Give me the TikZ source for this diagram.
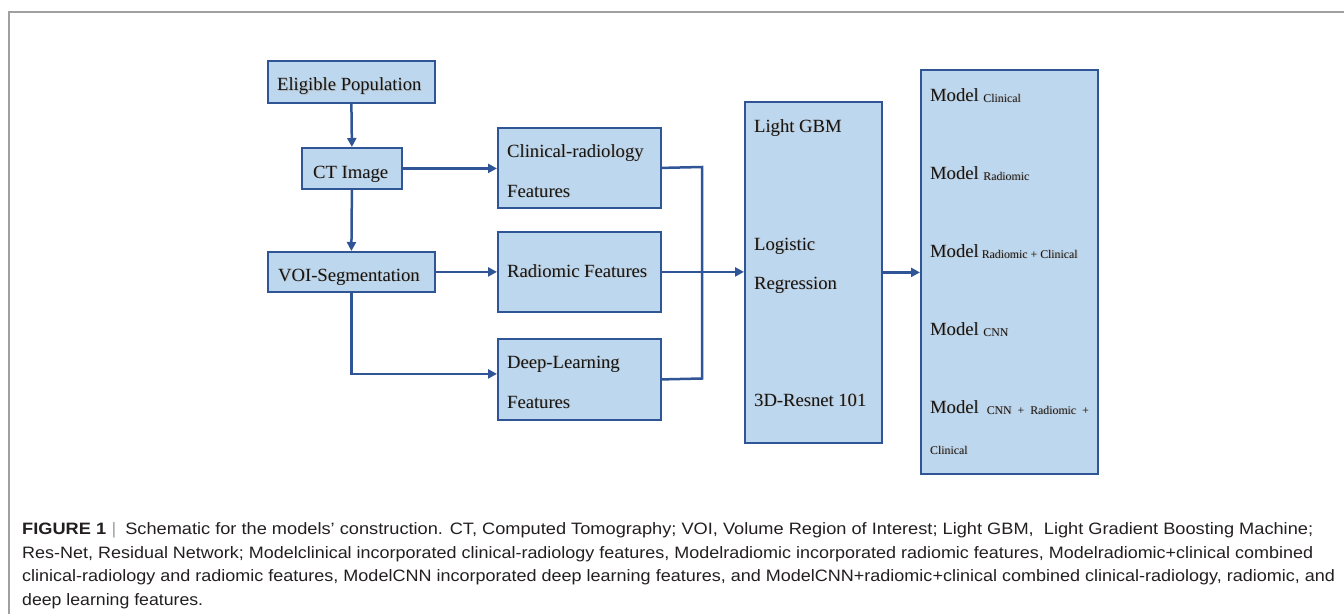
\documentclass[tikz,border=0pt]{standalone}
\usepackage{fontspec}
\usepackage{graphicx}
\setmainfont{Liberation Serif}
\newfontfamily\capfont{Liberation Sans}
\usetikzlibrary{arrows.meta}
\definecolor{boxfill}{HTML}{BDD7EE}
\definecolor{boxline}{HTML}{2F5597}
\definecolor{framegray}{HTML}{A0A0A0}
\definecolor{captext}{HTML}{231F20}
\newcommand{\subt}[1]{\raisebox{-1pt}{\fontsize{11.8}{12}\selectfont #1}}
\newcommand{\shd}[1]{\makebox[0pt][l]{\hspace{0.9pt}\raisebox{-0.9pt}{\color{black!30}#1}}#1}
\begin{document}
\begin{tikzpicture}[x=1pt,y=-1pt,
  box/.style={draw=boxline, fill=boxfill, line width=1.8pt, inner sep=0pt, anchor=north west},
  txt/.style={anchor=base west, inner sep=0pt, text=black!92, font=\fontsize{18.6}{22}\selectfont},
  conn/.style={draw=boxline, line width=2.5pt, line join=miter},
  arr/.style={conn, -{Triangle[length=9pt,width=9pt]}},
  captxt/.style={anchor=base west, inner sep=0pt, text=captext, font=\capfont\fontsize{16.5}{20}\selectfont}
]
\useasboundingbox (0,0) rectangle (1344,614);
% frame
\draw[framegray, line width=1.3pt] (1344,12) -- (9,12) -- (9,614);

% boxes
\node[box, minimum width=167pt, minimum height=42pt] (ep) at (267,60) {};
\node[box, minimum width=100pt, minimum height=41pt] (ct) at (301,147) {};
\node[box, minimum width=167pt, minimum height=40pt] (voi) at (267,251) {};
\node[box, minimum width=163pt, minimum height=80pt] (clin) at (497,127) {};
\node[box, minimum width=163pt, minimum height=80pt] (rad) at (497,231) {};
\node[box, minimum width=163pt, minimum height=81pt] (deep) at (497,338) {};
\node[box, minimum width=137pt, minimum height=341pt] (alg) at (744,101) {};
\node[box, minimum width=177pt, minimum height=404pt] (mdl) at (920,69) {};

% texts
\node[txt] (tep) at (277,90.7) {\shd{Eligible Population}};
\node[txt] (tct) at (313,178) {\shd{CT Image}};
\node[txt] (tvoi) at (278,281) {\shd{VOI-Segmentation}};
\node[txt] (tclin1) at (507,157) {\shd{Clinical-radiology}};
\node[txt] (tclin2) at (507,197) {\shd{Features}};
\node[txt] (trad) at (507,277) {\shd{Radiomic Features}};
\node[txt] (tdeep1) at (507,368) {\shd{Deep-Learning}};
\node[txt] (tdeep2) at (507,408) {\shd{Features}};
\node[txt] (tlgbm) at (754,132) {\shd{Light GBM}};
\node[txt] (tlr1) at (754,250) {\shd{Logistic}};
\node[txt] (tlr2) at (754,289) {\shd{Regression}};
\node[txt] (tres) at (754,406) {\shd{3D-Resnet 101}};
\node[txt] (m1) at (930,101) {\shd{Model \subt{Clinical}}};
\node[txt] (m2) at (930,179) {\shd{Model \subt{Radiomic}}};
\node[txt] (m3) at (930,257) {\shd{Model\hspace{3pt}\subt{Radiomic\hspace{3pt}+\hspace{3pt}Clinical}}};
\node[txt] (m4) at (930,335) {\shd{Model \subt{CNN}}};
\node[txt] (m5) at (930,413) {\shd{Model\hspace{8pt}\subt{CNN\hspace{6pt}+\hspace{6pt}Radiomic\hspace{6pt}+}}};
\node[txt] (m6) at (930,453) {\shd{\subt{Clinical}}};

% connectors
\draw[arr] (ep.south) -- (ct.north);
\draw[arr] (ct.south) -- (voi.north);
\draw[arr] (ct.east) -- (ct.east -| clin.west);
\draw[arr] (voi.east) -- (voi.east -| rad.west);
\draw[arr] (voi.south) |- ([yshift=5.5pt]deep.west);
\coordinate (bt) at (702,167);
\coordinate (bb) at (702,378.5);
\draw[conn] (clin.east) -- (bt) -- (bb) -- (deep.east);
\draw[arr] (rad.east) -- (rad.east -| alg.west);
\draw[arr] (alg.east) -- (alg.east -| mdl.west);

% caption
\node[captxt] (c1) at (22,534) {\resizebox{1291pt}{\height}{{\bfseries FIGURE 1}\hspace{5pt}{\color{framegray}|}\hspace{8pt}Schematic for the models’ construction. CT, Computed Tomography; VOI, Volume Region of Interest; Light GBM,\ \ Light Gradient Boosting Machine;}};
\node[captxt] (c2) at (22,558) {\resizebox{1291pt}{\height}{Res-Net, Residual Network; Modelclinical incorporated clinical-radiology features, Modelradiomic incorporated radiomic features, Modelradiomic+clinical combined}};
\node[captxt] (c3) at (22,581.5) {\resizebox{1313pt}{\height}{clinical-radiology and radiomic features, ModelCNN incorporated deep learning features, and ModelCNN+radiomic+clinical combined clinical-radiology, radiomic, and}};
\node[captxt] (c4) at (22,605) {\resizebox{181pt}{\height}{deep learning features.}};
\end{tikzpicture}
\end{document}
